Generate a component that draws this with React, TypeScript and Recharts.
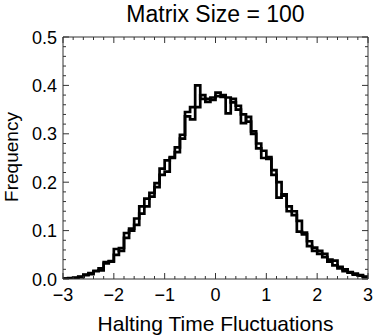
import { LineChart, Line, XAxis, YAxis } from "recharts";

// histogram bins, width 0.1, left edges
const binStarts = [
  -3.0, -2.9, -2.8, -2.7, -2.6, -2.5, -2.4, -2.3, -2.2, -2.1,
  -2.0, -1.9, -1.8, -1.7, -1.6, -1.5, -1.4, -1.3, -1.2, -1.1,
  -1.0, -0.9, -0.8, -0.7, -0.6, -0.5, -0.4, -0.3, -0.2, -0.1,
  0.0, 0.1, 0.2, 0.3, 0.4, 0.5, 0.6, 0.7, 0.8, 0.9,
  1.0, 1.1, 1.2, 1.3, 1.4, 1.5, 1.6, 1.7, 1.8, 1.9,
  2.0, 2.1, 2.2, 2.3, 2.4, 2.5, 2.6, 2.7, 2.8, 2.9,
];
const lastEdge = 3;

const seriesA = [
  0.001, 0.001, 0.002, 0.005, 0.008, 0.012, 0.016, 0.022, 0.035, 0.036,
  0.062, 0.058, 0.085, 0.104, 0.112, 0.15, 0.166, 0.17, 0.198, 0.228,
  0.245, 0.252, 0.272, 0.298, 0.345, 0.355, 0.4, 0.372, 0.366, 0.375,
  0.385, 0.38, 0.342, 0.372, 0.35, 0.34, 0.325, 0.3, 0.27, 0.265,
  0.248, 0.225, 0.2, 0.172, 0.15, 0.14, 0.12, 0.092, 0.078, 0.065,
  0.058, 0.052, 0.04, 0.038, 0.025, 0.02, 0.014, 0.011, 0.008, 0.004,
];

const seriesB = [
  0.001, 0.002, 0.003, 0.004, 0.009, 0.01, 0.017, 0.018, 0.032, 0.037,
  0.05, 0.064, 0.095, 0.1, 0.125, 0.135, 0.15, 0.178, 0.19, 0.215,
  0.222, 0.25, 0.262, 0.29, 0.336, 0.33, 0.355, 0.38, 0.372, 0.37,
  0.378, 0.376, 0.375, 0.365, 0.358, 0.322, 0.335, 0.305, 0.28, 0.25,
  0.252, 0.215, 0.168, 0.175, 0.14, 0.132, 0.098, 0.096, 0.068, 0.058,
  0.052, 0.045, 0.036, 0.028, 0.022, 0.016, 0.013, 0.009, 0.007, 0.005,
];

const xMajorTicks = [-3, -2, -1, 0, 1, 2, 3];
const xTickLabels = ["\u22123", "\u22122", "\u22121", "0", "1", "2", "3"];
const yMajorTicks = [0, 0.1, 0.2, 0.3, 0.4, 0.5];
const yTickLabels = ["0.0", "0.1", "0.2", "0.3", "0.4", "0.5"];

const title = "Matrix Size = 100";
const xTitle = "Halting Time Fluctuations";
const yTitle = "Frequency";

const data = binStarts.map((x, i) => ({ x, a: seriesA[i], b: seriesB[i] }));
data.push({ x: lastEdge, a: seriesA[seriesA.length - 1], b: seriesB[seriesB.length - 1] });

// minor ticks: 0.2 on x, 0.02 on y
const xTicks: number[] = [];
for (let k = 0; k <= 30; k++) xTicks.push(Math.round((-3 + k * 0.2) * 100) / 100);
const yTicks: number[] = [];
for (let k = 0; k <= 25; k++) yTicks.push(Math.round(k * 0.02 * 100) / 100);

const FONT = "'Liberation Sans', Arial, sans-serif";
const FRAME = "#333";
const MAJOR = 6;
const MINOR = 3;

const majorIndex = (list: number[], v: number) =>
  list.findIndex((m) => Math.abs(m - v) < 1e-6);

const XTick = (props: any) => {
  const { x, y, payload, side } = props;
  const idx = majorIndex(xMajorTicks, payload.value);
  const len = idx >= 0 ? MAJOR : MINOR;
  const dir = side === "bottom" ? -1 : 1;
  return (
    <g>
      <line x1={x} y1={y} x2={x} y2={y + dir * len} stroke={FRAME} strokeWidth={1} />
      {side === "bottom" && idx >= 0 && (
        <text x={x} y={y + 22} textAnchor="middle" fontSize={18} fontFamily={FONT} fill="#000">
          {xTickLabels[idx]}
        </text>
      )}
    </g>
  );
};

const YTick = (props: any) => {
  const { x, y, payload, side } = props;
  const idx = majorIndex(yMajorTicks, payload.value);
  const len = idx >= 0 ? MAJOR : MINOR;
  const dir = side === "left" ? 1 : -1;
  return (
    <g>
      <line x1={x} y1={y} x2={x + dir * len} y2={y} stroke={FRAME} strokeWidth={1} />
      {side === "left" && idx >= 0 && (
        <text x={x - 6} y={y + 6.5} textAnchor="end" fontSize={18} fontFamily={FONT} fill="#000">
          {yTickLabels[idx]}
        </text>
      )}
    </g>
  );
};

const axisCommon = {
  interval: 0 as const,
  tickSize: 0,
  tickMargin: 0,
  tickLine: false,
  axisLine: { stroke: FRAME },
  allowDataOverflow: true,
};

export default function App() {
  return (
    <div style={{ position: "absolute", left: 0, top: 0, width: 374, height: 335, background: "#fff" }}>
      <LineChart width={374} height={335} data={data} margin={{ top: 36, right: 5, bottom: 55, left: 62 }}>
        <XAxis
          {...axisCommon}
          xAxisId="b"
          type="number"
          dataKey="x"
          domain={[-3, 3]}
          ticks={xTicks}
          height={1}
          tick={(p: any) => <XTick {...p} side="bottom" />}
        />
        <XAxis
          {...axisCommon}
          xAxisId="t"
          orientation="top"
          type="number"
          dataKey="x"
          domain={[-3, 3]}
          ticks={xTicks}
          height={1}
          tick={(p: any) => <XTick {...p} side="top" />}
        />
        <YAxis
          {...axisCommon}
          yAxisId="l"
          type="number"
          domain={[0, 0.5]}
          ticks={yTicks}
          width={1}
          tick={(p: any) => <YTick {...p} side="left" />}
        />
        <YAxis
          {...axisCommon}
          yAxisId="r"
          orientation="right"
          type="number"
          domain={[0, 0.5]}
          ticks={yTicks}
          width={1}
          tick={(p: any) => <YTick {...p} side="right" />}
        />
        <Line
          xAxisId="b"
          yAxisId="l"
          type="stepAfter"
          dataKey="a"
          stroke="#000"
          strokeWidth={2.7}
          dot={false}
          isAnimationActive={false}
        />
        <Line
          xAxisId="b"
          yAxisId="l"
          type="stepAfter"
          dataKey="b"
          stroke="#000"
          strokeWidth={2.7}
          dot={false}
          isAnimationActive={false}
        />
      </LineChart>
      <svg
        style={{ position: "absolute", left: 0, top: 0, pointerEvents: "none" }}
        width={374}
        height={335}
      >
        <text x={215.5} y={21.5} textAnchor="middle" fontSize={23} fontFamily={FONT} fill="#000">
          {title}
        </text>
        <text x={215.5} y={331} textAnchor="middle" fontSize={21} fontFamily={FONT} fill="#000">
          {xTitle}
        </text>
        <text
          x={18}
          y={157}
          transform="rotate(-90 18 157)"
          textAnchor="middle"
          fontSize={19}
          fontFamily={FONT}
          fill="#000"
        >
          {yTitle}
        </text>
      </svg>
    </div>
  );
}
